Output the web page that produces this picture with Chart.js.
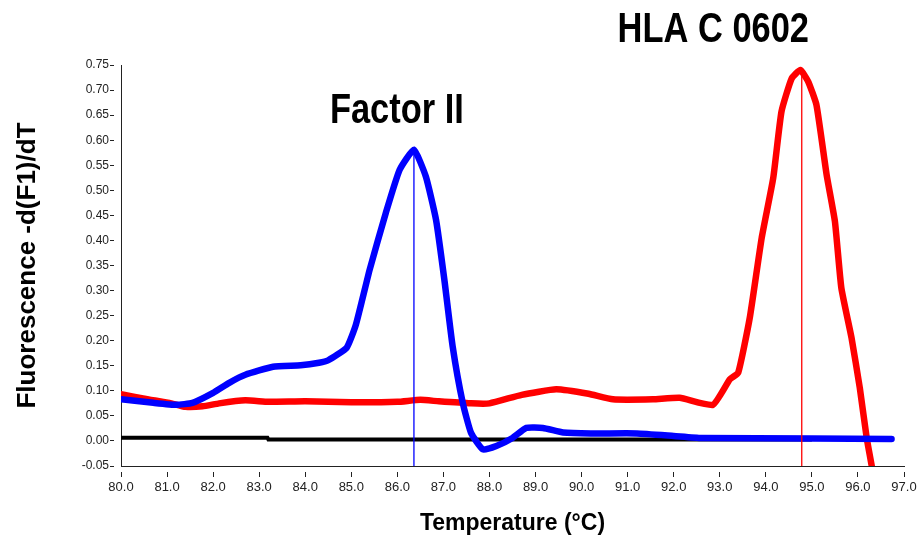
<!DOCTYPE html>
<html>
<head>
<meta charset="utf-8">
<script src="https://cdn.jsdelivr.net/npm/chart.js@4/dist/chart.umd.min.js"></script>
<style>
  html, body { margin: 0; padding: 0; background: #ffffff; }
  #wrap { width: 923px; height: 537px; }
</style>
</head>
<body>
<div id="wrap"><canvas id="c" width="923" height="537"></canvas></div>
<script>
// ---- Data ----
const xTicksMin = 80.0;
const xTicksMax = 97.0;
const yTicksMin = -0.05;
const yTicksMax = 0.75;

// Factor II (blue)
const blueTemps  = [80.0, 80.7, 81.2, 81.55, 82.0, 82.35, 82.7, 83.3, 83.9, 84.3, 84.5, 84.9, 85.1, 85.4, 85.75, 86.05, 86.36, 86.62, 86.84, 87.02, 87.2, 87.42, 87.6, 87.86, 88.15, 88.5, 88.8, 89.16, 89.6, 90.2, 91.2, 92.0, 92.6, 95.0, 96.73];
const blueValues = [0.083, 0.076, 0.072, 0.076, 0.096, 0.116, 0.132, 0.148, 0.151, 0.156, 0.161, 0.186, 0.232, 0.342, 0.455, 0.541, 0.581, 0.527, 0.441, 0.322, 0.189, 0.076, 0.016, -0.017, -0.010, 0.006, 0.026, 0.026, 0.017, 0.015, 0.015, 0.010, 0.006, 0.005, 0.004];

// HLA C 0602 (red)
const redTemps  = [80.0, 80.6, 81.05, 81.4, 81.77, 82.13, 82.7, 83.2, 84.0, 85.0, 86.0, 86.5, 86.9, 87.6, 88.0, 88.7, 89.45, 90.15, 90.68, 91.55, 92.13, 92.85, 93.22, 93.4, 93.65, 93.91, 94.16, 94.34, 94.56, 94.75, 94.92, 95.1, 95.32, 95.5, 95.64, 95.86, 96.04, 96.19, 96.3];
const redValues = [0.093, 0.083, 0.076, 0.068, 0.069, 0.075, 0.081, 0.078, 0.079, 0.077, 0.078, 0.082, 0.079, 0.075, 0.075, 0.092, 0.103, 0.094, 0.083, 0.083, 0.086, 0.072, 0.123, 0.136, 0.245, 0.405, 0.524, 0.657, 0.723, 0.740, 0.717, 0.670, 0.531, 0.438, 0.305, 0.206, 0.106, 0.006, -0.05];

// Negative control (black)
const blackTemps  = [80.0, 83.18, 83.2, 95.0];
const blackValues = [0.0065, 0.0065, 0.003, 0.003];

// Melting peak markers (Tm)
const peakTemps  = [86.36, 94.78];
const peakValues = [0.581, 0.740];

// Peak annotations
const annotationLabels = ['Factor II', 'HLA C 0602'];
const annotationTemps  = [85.99, 92.86];
const annotationValues = [0.634, 0.796];

const toPoints = (xs, ys) => xs.map((x, i) => ({ x: x, y: ys[i] }));

const annotationPlugin = {
  id: 'peakLabels',
  afterDraw(chart) {
    const ctx = chart.ctx;
    const xs = chart.scales.x, ys = chart.scales.y;
    ctx.save();
    ctx.fillStyle = '#000000';
    ctx.font = 'bold 42px "Liberation Sans", Arial, sans-serif';
    ctx.textAlign = 'center';
    ctx.textBaseline = 'alphabetic';
    annotationLabels.forEach((txt, i) => {
      const px = xs.getPixelForValue(annotationTemps[i]);
      const py = ys.getPixelForValue(annotationValues[i]);
      ctx.save();
      ctx.translate(px, py);
      ctx.scale(0.82, 1);
      ctx.fillText(txt, 0, 0);
      ctx.restore();
    });
    ctx.restore();
  }
};

new Chart(document.getElementById('c'), {
  type: 'line',
  data: {
    datasets: [
      {
        label: 'Negative control',
        data: toPoints(blackTemps, blackValues),
        borderColor: '#000000',
        borderWidth: 4,
        pointRadius: 0,
        tension: 0,
        order: 4
      },
      {
        label: 'HLA C 0602',
        data: toPoints(redTemps, redValues),
        borderColor: '#ff0000',
        borderWidth: 6.5,
        pointRadius: 0,
        tension: 0.15,
        borderJoinStyle: 'round',
        borderCapStyle: 'round',
        order: 3
      },
      {
        label: 'Factor II',
        data: toPoints(blueTemps, blueValues),
        borderColor: '#0000ff',
        borderWidth: 6.5,
        pointRadius: 0,
        tension: 0.15,
        borderJoinStyle: 'round',
        borderCapStyle: 'round',
        order: 2
      },
      {
        label: 'Factor II Tm',
        data: [{ x: peakTemps[0], y: yTicksMin }, { x: peakTemps[0], y: peakValues[0] }],
        borderColor: '#0000ff',
        borderWidth: 1.3,
        pointRadius: 0,
        order: 1
      },
      {
        label: 'HLA Tm',
        data: [{ x: peakTemps[1], y: yTicksMin }, { x: peakTemps[1], y: peakValues[1] }],
        borderColor: '#ff0000',
        borderWidth: 1.3,
        pointRadius: 0,
        order: 1
      }
    ]
  },
  options: {
    responsive: false,
    animation: false,
    devicePixelRatio: 1,
    layout: { padding: { top: 65, right: 19, left: 0, bottom: 0 } },
    plugins: {
      legend: { display: false },
      tooltip: { enabled: false }
    },
    scales: {
      x: {
        type: 'linear',
        min: xTicksMin,
        max: xTicksMax,
        afterFit(scale) { scale.height = 71; },
        border: { display: true, color: '#222222', width: 1 },
        grid: {
          drawOnChartArea: false,
          drawTicks: true,
          tickLength: 11,
          tickColor: '#222222',
          tickWidth: 1,
          tickBorderDash: [0, 5, 6, 30]
        },
        ticks: {
          stepSize: 1,
          padding: 3,
          color: '#222222',
          font: { family: '"Liberation Sans", Arial, sans-serif', size: 13 },
          maxRotation: 0,
          autoSkip: false,
          callback: (v) => Number(v).toFixed(1)
        },
        title: {
          display: true,
          text: 'Temperature (°C)',
          color: '#000000',
          font: { family: '"Liberation Sans", Arial, sans-serif', size: 23, weight: 'bold' },
          padding: { top: 0, bottom: 0 }
        }
      },
      y: {
        type: 'linear',
        min: yTicksMin,
        max: yTicksMax,
        afterFit(scale) { scale.width = 121; },
        border: { display: true, color: '#222222', width: 1 },
        grid: {
          drawOnChartArea: false,
          drawTicks: true,
          tickLength: 11,
          tickColor: '#222222',
          tickWidth: 1,
          tickBorderDash: [4, 30]
        },
        ticks: {
          stepSize: 0.05,
          padding: 1,
          color: '#222222',
          font: { family: '"Liberation Sans", Arial, sans-serif', size: 12 },
          autoSkip: false,
          callback: (v) => Number(v).toFixed(2)
        },
        title: {
          display: true,
          text: 'Fluorescence -d(F1)/dT',
          color: '#000000',
          font: { family: '"Liberation Sans", Arial, sans-serif', size: 26, weight: 'bold' },
          padding: { top: 12, bottom: 0 }
        }
      }
    }
  },
  plugins: [annotationPlugin]
});
</script>
</body>
</html>
